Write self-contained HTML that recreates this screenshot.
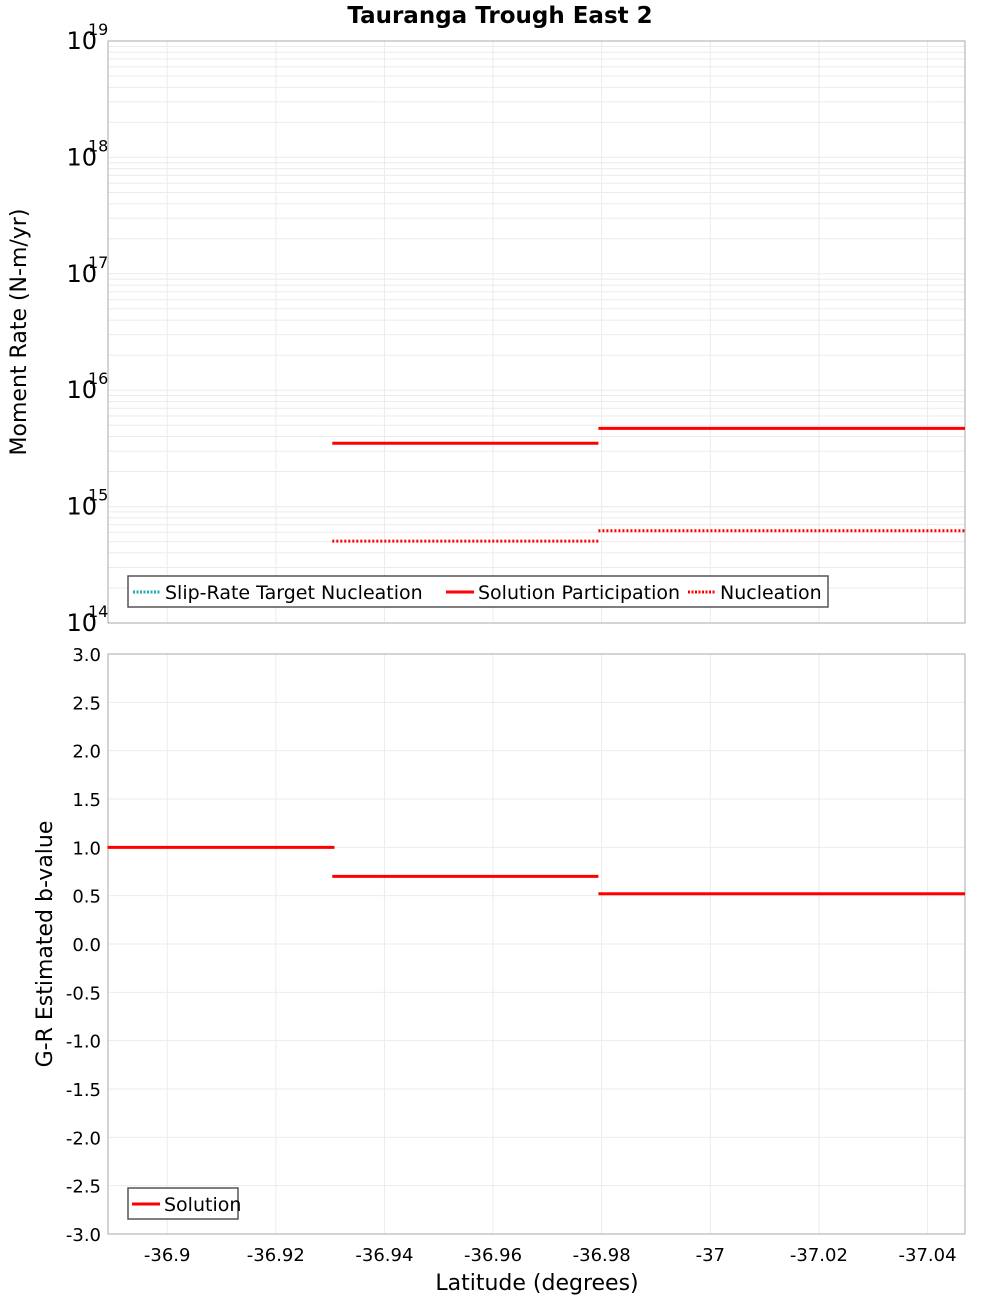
<!DOCTYPE html>
<html><head><meta charset="utf-8"><style>
html,body{margin:0;padding:0;background:#fff;}
svg{display:block;font-family:"DejaVu Sans","Liberation Sans",sans-serif;}
</style></head><body>
<svg id="chart" width="1000" height="1300" viewBox="0 0 1000 1300" xmlns="http://www.w3.org/2000/svg">
<text x="500" y="23" text-anchor="middle" font-size="23" font-weight="bold">Tauranga Trough East 2</text>
<g id="topPanel"></g>
<g id="botPanel"></g>
<text transform="translate(26,332) rotate(-90)" text-anchor="middle" font-size="22">Moment Rate (N-m/yr)</text>
<text transform="translate(52,944) rotate(-90)" text-anchor="middle" font-size="22">G-R Estimated b-value</text>
<text x="537" y="1290" text-anchor="middle" font-size="22">Latitude (degrees)</text>
</svg>
<script>
const segStarts=[-36.889,-36.9304,-36.9794];
const segEnds=[-36.9308,-36.9794,-37.0469];
const partSegs=[1,2];
const partValues=[3.5e15,4.7e15];
const nuclValues=[5.05e14,6.2e14];
const bValues=[1.0,0.70,0.52];
const xTicks=[-36.9,-36.92,-36.94,-36.96,-36.98,-37,-37.02,-37.04];
const xTickLabels=["-36.9","-36.92","-36.94","-36.96","-36.98","-37","-37.02","-37.04"];
const logDecades=[14,15,16,17,18,19];
const bTicks=[3,2.5,2,1.5,1,0.5,0,-0.5,-1,-1.5,-2,-2.5,-3];

const NS="http://www.w3.org/2000/svg";
const L=108,R=965,T1=41,B1=623,T2=654,B2=1234;
const xMin=-36.8891,xMax=-37.0469;
function X(v){return L+(v-xMin)/(xMax-xMin)*(R-L);}
function Y1(v){return T1+(19-Math.log10(v))/5*(B1-T1);}
function Y2(v){return T2+(3-v)/6*(B2-T2);}
function mk(parent,tag,attrs){const e=document.createElementNS(NS,tag);for(const k in attrs)e.setAttribute(k,attrs[k]);parent.appendChild(e);return e;}
const topG=document.getElementById('topPanel'),botG=document.getElementById('botPanel');
const grid='#ebebeb';
for(let d=14;d<19;d++){for(let m=1;m<10;m++){const y=Y1(m*Math.pow(10,d));
 const g=mk(topG,'line',{x1:L,x2:R,y1:y,y2:y,stroke:grid,'stroke-width':1});
 
 }}
xTicks.forEach(t=>{[[topG,T1,B1],[botG,T2,B2]].forEach(([p,a,b])=>{
 const g=mk(p,'line',{x1:X(t),x2:X(t),y1:a,y2:b,stroke:grid,'stroke-width':1});
 
 });});
bTicks.forEach(t=>{const g=mk(botG,'line',{x1:L,x2:R,y1:Y2(t),y2:Y2(t),stroke:grid,'stroke-width':1});
 
 });
[[topG,T1,B1],[botG,T2,B2]].forEach(([p,a,b])=>{const r=mk(p,'rect',{x:L,y:a,width:R-L,height:b-a,fill:'none',stroke:'#aaa','stroke-width':1});
 
 });
logDecades.forEach(d=>{const y=Y1(Math.pow(10,d));
 const t=mk(topG,'text',{x:97,y:y+8,'text-anchor':'end','font-size':24});
 
 
 t.textContent='10';
 const s=mk(topG,'text',{x:88,y:y-6,'font-size':16});
 
 
 s.textContent=String(d);});
bTicks.forEach(v=>{const t=mk(botG,'text',{x:101,y:Y2(v)+7,'text-anchor':'end','font-size':18});
 
 
 t.textContent=v.toFixed(1);});
xTicks.forEach((v,i)=>{const t=mk(botG,'text',{x:X(v),y:1261,'text-anchor':'middle','font-size':18});
 
 
 t.textContent=xTickLabels[i];});
partSegs.forEach((s,i)=>{
 const a=mk(topG,'line',{x1:X(segStarts[s]),x2:X(segEnds[s]),y1:Y1(partValues[i]),y2:Y1(partValues[i]),stroke:'#f00','stroke-width':3});
 
 
 const b=mk(topG,'line',{x1:X(segStarts[s]),x2:X(segEnds[s]),y1:Y1(nuclValues[i]),y2:Y1(nuclValues[i]),stroke:'#f00','stroke-width':3,'stroke-dasharray':'2,2'});
 
 });
bValues.forEach((v,i)=>{const a=mk(botG,'line',{x1:X(segStarts[i]),x2:X(segEnds[i]),y1:Y2(v),y2:Y2(v),stroke:'#f00','stroke-width':3});
 
 });
function legend(p,x,y,w,items,name){
 const g=mk(p,'g',{});
 
 
 mk(g,'rect',{x:x,y:y,width:w,height:31,fill:'#fff',stroke:'#555','stroke-width':1.5});
 items.forEach(it=>{
  const ln=mk(g,'line',{x1:it[0],x2:it[0]+28,y1:y+16,y2:y+16,stroke:it[2],'stroke-width':3});
  if(it[3])ln.setAttribute('stroke-dasharray','2,1.5');
  const t=mk(g,'text',{x:it[0]+32,y:y+23,'font-size':19});
  
  
  t.textContent=it[1];});}
legend(topG,128,576,700,[[133,'Slip-Rate Target Nucleation','#1aafb0',true],[446,'Solution Participation','#f00',false],[688,'Nucleation','#f00',true]],'top-legend');
legend(botG,128,1188,110,[[132,'Solution','#f00',false]],'bottom-legend');
</script>
</body></html>
